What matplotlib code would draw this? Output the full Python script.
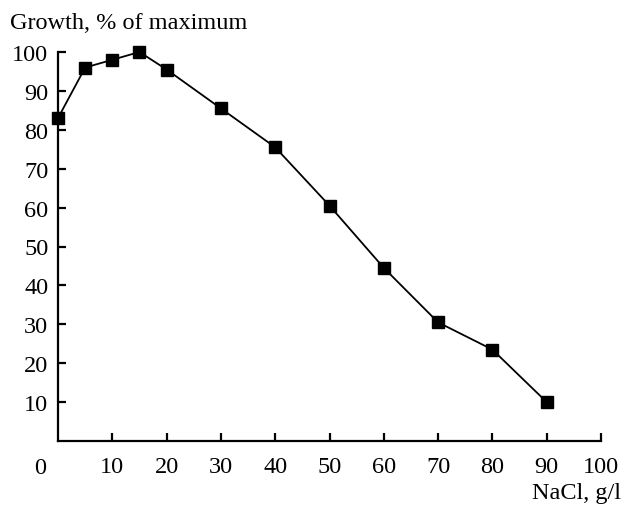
import matplotlib.pyplot as plt

plt.rcParams['font.family'] = ['Liberation Serif', 'DejaVu Serif']

nacl = [0, 5, 10, 15, 20, 30, 40, 50, 60, 70, 80, 90]
growth = [83, 96, 98, 100, 95.5, 85.5, 75.5, 60.5, 44.5, 30.5, 23.5, 10]
ticks = [10, 20, 30, 40, 50, 60, 70, 80, 90, 100]

fig = plt.figure(figsize=(6.22, 5.06), dpi=100)
ax = fig.add_axes([58 / 622, 1 - 442 / 506, 543 / 622, 389 / 506])

ax.plot(nacl, growth, color='black', lw=1.3, marker='s', markersize=9, clip_on=False, zorder=3)

ax.set_xlim(0, 100)
ax.set_ylim(0, 100)
ax.set_xticks(ticks)
ax.set_yticks(ticks)
ax.spines['top'].set_visible(False)
ax.spines['right'].set_visible(False)
for s in ['left', 'bottom']:
    ax.spines[s].set_linewidth(1.6)
ax.tick_params(direction='in', length=6, width=1.6, labelsize=17.5)
ax.tick_params(axis='x', pad=11)
ax.tick_params(axis='y', pad=7)

# origin label
ax.annotate('0', xy=(0, 0), xytext=(-13, -19), textcoords='offset points',
            ha='center', va='center', fontsize=17.5)

fig.text(10 / 622, 1 - 24 / 506, 'Growth, % of maximum', ha='left', va='center', fontsize=17.5)
fig.text(621 / 622, 1 - 494 / 506, 'NaCl, g/l', ha='right', va='center', fontsize=17.5)

fig.savefig('out.png', dpi=100)
